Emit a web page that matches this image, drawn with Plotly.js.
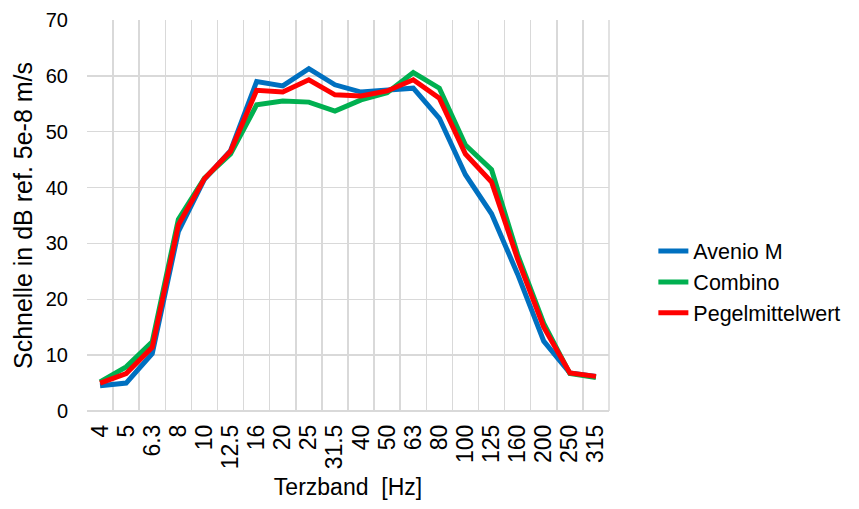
<!DOCTYPE html>
<html>
<head>
<meta charset="utf-8">
<script src="https://cdn.plot.ly/plotly-3.0.1.min.js"></script>
<style>html,body{margin:0;padding:0;background:#fff;}#chart{width:859px;height:509px;}</style>
</head>
<body>
<div id="chart"></div>
<script>
const bands = ["4","5","6.3","8","10","12.5","16","20","25","31.5","40","50","63","80","100","125","160","200","250","315"];
const avenioM = [4.5, 5.0, 10.3, 32.1, 41.5, 46.6, 59.0, 58.2, 61.3, 58.4, 57.1, 57.4, 57.8, 52.4, 42.3, 35.3, 24.5, 12.5, 6.8, 6.2];
const combino = [5.2, 7.9, 12.4, 34.3, 41.7, 46.0, 54.8, 55.5, 55.3, 53.7, 55.7, 57.0, 60.6, 57.8, 47.6, 43.2, 28.0, 15.7, 6.7, 6.0];
const pegel = [5.0, 6.7, 11.4, 33.3, 41.6, 46.5, 57.4, 57.1, 59.3, 56.6, 56.4, 57.3, 59.3, 56.0, 46.0, 41.0, 27.2, 15.0, 6.8, 6.2];

const seriesNames = ["Avenio M", "Combino", "Pegelmittelwert"];
const seriesColors = ["#0070C0", "#00B050", "#FF0000"];
const seriesData = [avenioM, combino, pegel];

const traces = seriesData.map((ys, i) => ({
  x: bands, y: ys, type: "scatter", mode: "lines", name: seriesNames[i],
  line: {color: seriesColors[i], width: 5}
}));

const fam = "Liberation Sans, Arial, sans-serif";
const f = (s) => ({family: fam, size: s, color: "#000"});
const layout = {
  width: 859, height: 509,
  margin: {l: 87, r: 250, t: 20, b: 98, autoexpand: false},
  paper_bgcolor: "#fff", plot_bgcolor: "#fff",
  font: f(20),
  showlegend: true,
  legend: {x: 1.085, y: 0.33, xanchor: "left", yanchor: "middle", font: f(21.5), tracegroupgap: 0},
  xaxis: {
    type: "category", range: [-0.5, 19.5], tickson: "boundaries",
    tickmode: "linear", tick0: 0, dtick: 1,
    showgrid: true, gridcolor: "#D9D9D9", gridwidth: 1.5,
    ticks: "", tickangle: -90, tickfont: f(23), ticklabelstandoff: 8,
    showline: false, zeroline: false,
    title: {text: "Terzband  [Hz]", font: f(23), standoff: 10}
  },
  yaxis: {
    range: [0, 70], dtick: 10, tick0: 0,
    showgrid: true, gridcolor: "#D9D9D9", gridwidth: 1.5,
    zeroline: true, zerolinecolor: "#D9D9D9", zerolinewidth: 1.5,
    ticks: "", tickfont: f(20), ticklabelstandoff: 18,
    title: {text: "Schnelle in dB ref. 5e-8 m/s", font: f(25), standoff: 6}
  },
  shapes: [{type: "line", xref: "paper", yref: "paper", x0: 1, x1: 1, y0: 0, y1: 1,
            line: {color: "#D9D9D9", width: 1.5}, layer: "below"}]
};
Plotly.newPlot("chart", traces, layout, {displayModeBar: false, staticPlot: true});
</script>
</body>
</html>
